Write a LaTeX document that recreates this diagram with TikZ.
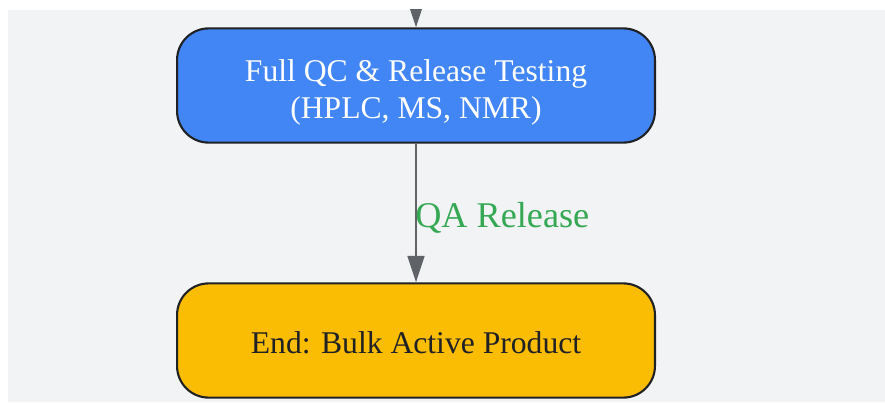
\documentclass[tikz,border=0pt]{standalone}
\usepackage{fontspec}
\setmainfont{Liberation Serif}
\usetikzlibrary{arrows.meta}

\definecolor{bgGrey}{HTML}{F1F3F4}
\definecolor{stepBlue}{HTML}{4285F4}
\definecolor{endYellow}{HTML}{FBBC04}
\definecolor{edgeGrey}{HTML}{5F6368}
\definecolor{lineDark}{HTML}{202124}
\definecolor{labelGreen}{HTML}{34A853}

\tikzset{
    stepbox/.style={draw=lineDark, line width=1.2pt, rounded corners=18pt,
        minimum width=272pt, minimum height=65pt, align=center,
        font=\fontsize{18}{21}\selectfont},
    flow/.style={draw=edgeGrey, line width=1.1pt,
        -{Triangle[width=9.6pt,length=15pt]}},
}

\begin{document}
\begin{tikzpicture}[x=0.02cm, y=-0.02cm]
        \useasboundingbox (0,0) rectangle (885,402);

        % Background panel
        \fill[bgGrey] (8,10) rectangle (885,402);

        % Process steps
        \node[stepbox, fill=stepBlue, text=white] (qc) at (416,85.5)
            {\rule{0pt}{20.5pt}Full QC \& Release Testing\\(HPLC, MS, NMR)};
        \node[stepbox, fill=endYellow, text=lineDark] (end) at (416,340.5)
            {\rule{0pt}{15pt}End: Bulk Active Product};

        % Incoming edge from the previous step (cut off by the panel)
        \coordinate (prev) at (416,-30);
        \begin{scope}
            \clip (8,10) rectangle (885,402);
            \draw[flow] (prev) -- (qc.north);
        \end{scope}

        % Release edge
        \draw[flow] (qc.south) -- (end.north);
        \node[anchor=west, inner sep=0pt, text=labelGreen,
            font=\fontsize{20.6}{24}\selectfont] (qa) at (415,217.5) {QA Release};
\end{tikzpicture}
\end{document}
